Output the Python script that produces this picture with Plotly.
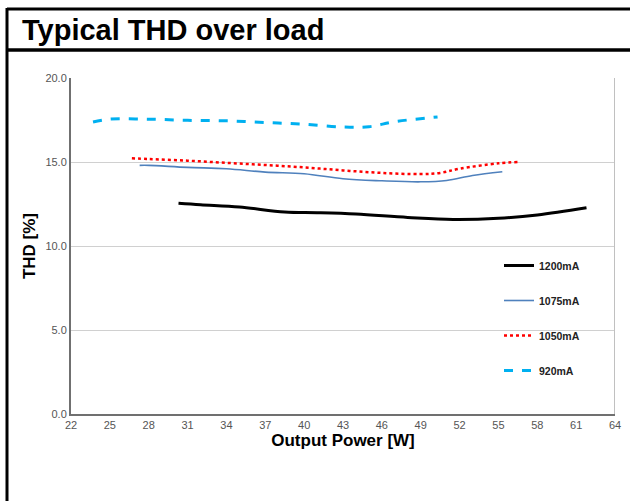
import plotly.graph_objects as go

# Data
p_1200 = [30.3, 32, 35, 38.5, 41, 44, 48, 51.5, 55, 58, 61.8]
thd_1200 = [12.54, 12.45, 12.32, 12.02, 11.98, 11.9, 11.7, 11.58, 11.65, 11.85, 12.28]

p_1075 = [27.3, 28, 31, 34, 37, 40, 43, 46, 49, 51, 53, 55.3]
thd_1075 = [14.8, 14.8, 14.68, 14.6, 14.4, 14.3, 14.0, 13.88, 13.82, 13.9, 14.2, 14.42]

p_1050 = [26.7, 28, 31, 34, 37, 40, 43, 46, 49, 50.5, 52, 55, 56.5]
thd_1050 = [15.22, 15.18, 15.08, 14.95, 14.82, 14.68, 14.5, 14.35, 14.28, 14.35, 14.6, 14.92, 15.0]

p_920 = [23.7, 25, 28, 31, 34, 37, 40, 43, 45, 47, 50.3]
thd_920 = [17.38, 17.55, 17.55, 17.48, 17.45, 17.35, 17.25, 17.08, 17.1, 17.4, 17.68]

x_ticks = list(range(22, 65, 3))
y_ticks = [0, 5, 10, 15, 20]
y_tick_labels = ["0.0", "5.0", "10.0", "15.0", "20.0"]

series = [
    ("1200mA", p_1200, thd_1200, dict(color="#000000", width=3, dash="solid")),
    ("1075mA", p_1075, thd_1075, dict(color="#4F81BD", width=1.6, dash="solid")),
    ("1050mA", p_1050, thd_1050, dict(color="#FF0000", width=2.5, dash="dot")),
    ("920mA", p_920, thd_920, dict(color="#00B0F0", width=3, dash="dash")),
]

FONT = "Liberation Sans, Arial, sans-serif"

fig = go.Figure()
for i, (name, xs, ys, line) in enumerate(series):
    fig.add_trace(go.Scatter(
        x=xs, y=ys, name=name, mode="lines",
        line=dict(shape="spline", smoothing=1.0, **line),
        legendgroup=f"g{i}",
    ))

W, H = 630, 501
L, R, T, B = 71, 15, 78, 87
PW, PH = W - L - R, H - T - B


def px(xpix):
    return (xpix - L) / PW


def py(ypix):
    return (H - B - ypix) / PH


fig.update_layout(
    width=W, height=H,
    margin=dict(l=L, r=R, t=T, b=B, autoexpand=False),
    paper_bgcolor="white", plot_bgcolor="white",
    font=dict(family=FONT, color="#404040"),
    showlegend=True,
    legend=dict(
        x=px(499), y=py(251), xanchor="left", yanchor="top",
        bgcolor="rgba(0,0,0,0)", borderwidth=0,
        font=dict(size=10.5, color="#222222", family=FONT, weight="bold"),
        tracegroupgap=16, itemwidth=30, traceorder="grouped",
    ),
    xaxis=dict(
        range=[22, 64], tickvals=x_ticks, ticktext=[str(v) for v in x_ticks],
        showgrid=False, zeroline=False,
        showline=True, linecolor="#707070", linewidth=2,
        ticks="", tickfont=dict(size=11, color="#555555"),
        title=dict(text="<b>Output Power [W]</b>", font=dict(size=17, color="#000000"), standoff=1),
    ),
    yaxis=dict(
        range=[0, 20], tickvals=y_ticks, ticktext=y_tick_labels,
        showgrid=True, gridcolor="#D0D0D0", gridwidth=1, zeroline=False,
        showline=True, linecolor="#707070", linewidth=2,
        ticks="", tickfont=dict(size=11, color="#555555"),
        title=dict(text="<b>THD [%]</b>", font=dict(size=17, color="#000000"), standoff=5),
    ),
)

# right plot border (light gray)
fig.add_shape(type="line", xref="x", yref="y", x0=64, x1=64, y0=0, y1=20,
              line=dict(color="#C0C0C0", width=2))

# outer frame and title box
fig.add_shape(type="line", xref="paper", yref="paper",
              x0=px(7), x1=px(7), y0=py(503), y1=py(8),
              line=dict(color="#000000", width=3))
fig.add_shape(type="line", xref="paper", yref="paper",
              x0=px(7), x1=px(632), y0=py(9), y1=py(9),
              line=dict(color="#000000", width=3))
fig.add_shape(type="line", xref="paper", yref="paper",
              x0=px(7), x1=px(632), y0=py(50), y1=py(50),
              line=dict(color="#000000", width=3.5))

fig.add_annotation(
    text="<b>Typical THD over load</b>", xref="paper", yref="paper",
    x=px(20), y=py(30), xanchor="left", yanchor="middle", showarrow=False,
    font=dict(size=29, color="#000000", family=FONT),
)

fig.write_html(
    "out.html",
    config={"displayModeBar": False},
    post_script="document.body.style.margin='0';document.body.style.padding='0';",
)
